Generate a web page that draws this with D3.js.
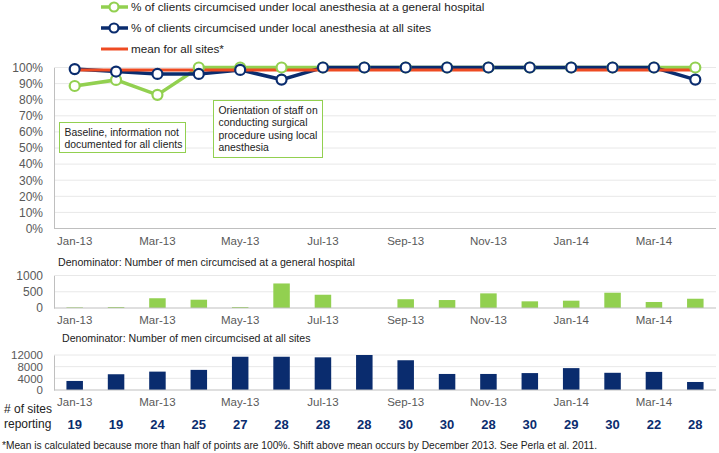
<!DOCTYPE html>
<html><head><meta charset="utf-8">
<script src="https://cdn.jsdelivr.net/npm/d3@7"></script>
<style>body{margin:0;background:#fff}svg{display:block;font-family:"Liberation Sans",Arial,sans-serif}</style>
</head><body><svg id="c" width="719" height="453"></svg>
<script>
const months = ["Jan-13","Feb-13","Mar-13","Apr-13","May-13","Jun-13","Jul-13","Aug-13","Sep-13","Oct-13","Nov-13","Dec-13","Jan-14","Feb-14","Mar-14","Apr-14"];
const tickMonths = ["Jan-13","Mar-13","May-13","Jul-13","Sep-13","Nov-13","Jan-14","Mar-14"];
const pctHospital = [0.885,0.923,0.83,1,1,1,1,1,1,1,1,1,1,1,1,1];
const pctAllSites = [0.99,0.975,0.96,0.96,0.985,0.925,1,1,1,1,1,1,1,1,1,0.925];
const meanAllSites = [0.985,0.985,0.985,0.985,0.985,0.985,0.985,0.985,0.985,0.985,0.985,null,0.985,0.985,0.985,0.985];
const denomHospital = [20,30,300,255,30,755,408,0,270,245,450,205,225,470,185,285];
const denomAllSites = [3100,5400,6300,6900,11400,11400,11200,12000,10200,5500,5500,5800,7500,5900,6200,2750];
const sitesReporting = [19,19,24,25,27,28,28,28,30,30,28,30,29,30,22,28];
const pctTicks = [0,0.1,0.2,0.3,0.4,0.5,0.6,0.7,0.8,0.9,1];
const hospTicks = [0,500,1000];
const allTicks = [0,4000,8000,12000];
const legendLabels = ["% of clients circumcised under local anesthesia at a general hospital","% of clients circumcised under local anesthesia at all sites","mean for all sites*"];
const note1 = ["Baseline, information not","documented for all clients"];
const note2 = ["Orientation of staff on","conducting surgical","procedure using local","anesthesia"];

const GREEN="#92D050", NAVY="#0A2C6E", RED="#EE4B22", GRID="#E8E8E8", AXIS="#BFBFBF", TXT="#595959";
const svg = d3.select("#c");
const x = d3.scaleBand().domain(months).range([54,716]);
const cx = m => x(m) + x.bandwidth()/2;

// ---------- top chart ----------
const y1 = d3.scaleLinear().domain([0,1]).range([228.5,67.5]);
svg.append("g").selectAll("line").data(pctTicks.filter(d=>d>0)).join("line")
  .attr("x1",54).attr("x2",716).attr("y1",d=>y1(d)).attr("y2",d=>y1(d)).attr("stroke",GRID);
const yAx1 = svg.append("g").attr("transform","translate(54,0)")
  .call(d3.axisLeft(y1).tickValues(pctTicks).tickFormat(d3.format(".0%")).tickSize(0).tickPadding(11));
yAx1.select(".domain").attr("stroke",AXIS);
yAx1.selectAll("text").attr("fill",TXT).style("font-size","12px");
const xAx1 = svg.append("g").attr("transform","translate(0,228.5)")
  .call(d3.axisBottom(x).tickValues(tickMonths).tickSize(0).tickPadding(8));
xAx1.select(".domain").attr("stroke",AXIS).attr("d","M54,0H716");
xAx1.selectAll("text").attr("fill",TXT).style("font-size","11.5px");

const line = d3.line().defined(d=>d.v!=null).x(d=>cx(d.m)).y(d=>y1(d.v));
const zip = arr => arr.map((v,i)=>({m:months[i],v}));
svg.append("path").datum(zip(pctHospital)).attr("d",line).attr("fill","none").attr("stroke",GREEN).attr("stroke-width",3.5);
svg.append("path").datum(zip(pctAllSites)).attr("d",line).attr("fill","none").attr("stroke",NAVY).attr("stroke-width",3.5);
svg.append("path").datum(zip(meanAllSites)).attr("d",line).attr("fill","none").attr("stroke",RED).attr("stroke-width",3);
svg.append("g").selectAll("circle").data(zip(pctHospital)).join("circle")
  .attr("cx",d=>cx(d.m)).attr("cy",d=>y1(d.v)).attr("r",5).attr("fill","#fff").attr("stroke",GREEN).attr("stroke-width",2.2);
svg.append("g").selectAll("circle").data(zip(pctAllSites)).join("circle")
  .attr("cx",d=>cx(d.m)).attr("cy",d=>y1(d.v)).attr("r",5).attr("fill","#fff").attr("stroke",NAVY).attr("stroke-width",2.2);

// annotation boxes
function note(lines,bx,by,bw,bh){
  const g = svg.append("g");
  g.append("rect").attr("x",bx).attr("y",by).attr("width",bw).attr("height",bh).attr("fill","#fff").attr("stroke",GREEN).attr("stroke-width",1);
  g.selectAll("text").data(lines).join("text").attr("x",bx+5).attr("y",(d,i)=>by+13+i*12.5)
    .attr("fill","#222").style("font-size","10.4px").text(d=>d);
}
note(note1,59.5,122.5,126,30);
note(note2,213.5,100.5,109,57);

// legend
const leg = svg.append("g");
const legY = [7,28,49], legC=[GREEN,NAVY,RED];
legendLabels.forEach((t,i)=>{
  leg.append("line").attr("x1",101).attr("x2",128).attr("y1",legY[i]).attr("y2",legY[i]).attr("stroke",legC[i]).attr("stroke-width",i==2?3:3.5);
  if(i<2) leg.append("circle").attr("cx",114).attr("cy",legY[i]).attr("r",4.5).attr("fill","#fff").attr("stroke",legC[i]).attr("stroke-width",2.2);
  leg.append("text").attr("x",131).attr("y",legY[i]).attr("dy","0.35em").attr("fill","#222").style("font-size","11.7px").text(t);
});

// ---------- middle chart ----------
const y2 = d3.scaleLinear().domain([0,1000]).range([308,275.5]);
svg.append("text").attr("x",58).attr("y",262).attr("dy","0.35em").attr("fill","#222").style("font-size","10.6px")
  .text("Denominator: Number of men circumcised at a general hospital");
svg.append("g").selectAll("line").data(hospTicks.filter(d=>d>0)).join("line")
  .attr("x1",54).attr("x2",716).attr("y1",d=>y2(d)).attr("y2",d=>y2(d)).attr("stroke",GRID);
const bw = 16.5;
svg.append("g").selectAll("rect").data(zip(denomHospital)).join("rect")
  .attr("x",d=>cx(d.m)-bw/2).attr("width",bw).attr("y",d=>y2(d.v)).attr("height",d=>y2(0)-y2(d.v)).attr("fill",GREEN);
const yAx2 = svg.append("g").attr("transform","translate(54,0)")
  .call(d3.axisLeft(y2).tickValues(hospTicks).tickFormat(d3.format("d")).tickSize(0).tickPadding(11));
yAx2.select(".domain").attr("stroke",AXIS);
yAx2.selectAll("text").attr("fill",TXT).style("font-size","12px");
const xAx2 = svg.append("g").attr("transform","translate(0,308)")
  .call(d3.axisBottom(x).tickValues(tickMonths).tickSize(0).tickPadding(8));
xAx2.select(".domain").attr("stroke",AXIS).attr("d","M54,0H716");
xAx2.selectAll("text").attr("fill",TXT).style("font-size","11.5px");

// ---------- bottom chart ----------
const y3 = d3.scaleLinear().domain([0,12000]).range([390,355]);
svg.append("text").attr("x",62).attr("y",338).attr("dy","0.35em").attr("fill","#222").style("font-size","10.6px")
  .text("Denominator: Number of men circumcised at all sites");
svg.append("g").selectAll("line").data(allTicks.filter(d=>d>0)).join("line")
  .attr("x1",54).attr("x2",716).attr("y1",d=>y3(d)).attr("y2",d=>y3(d)).attr("stroke",GRID);
svg.append("g").selectAll("rect").data(zip(denomAllSites)).join("rect")
  .attr("x",d=>cx(d.m)-bw/2).attr("width",bw).attr("y",d=>y3(d.v)).attr("height",d=>y3(0)-y3(d.v)).attr("fill",NAVY);
const yAx3 = svg.append("g").attr("transform","translate(54,0)")
  .call(d3.axisLeft(y3).tickValues(allTicks).tickFormat(d3.format("d")).tickSize(0).tickPadding(11));
yAx3.select(".domain").attr("stroke",AXIS);
yAx3.selectAll("text").attr("fill",TXT).style("font-size","11.5px");
const xAx3 = svg.append("g").attr("transform","translate(0,390)")
  .call(d3.axisBottom(x).tickValues(tickMonths).tickSize(0).tickPadding(8));
xAx3.select(".domain").attr("stroke",AXIS).attr("d","M54,0H716");
xAx3.selectAll("text").attr("fill",TXT).style("font-size","11.5px");

// sites reporting
svg.append("text").attr("x",4).attr("y",409).attr("dy","0.35em").attr("fill","#222").style("font-size","12px").text("# of sites");
svg.append("text").attr("x",4).attr("y",424).attr("dy","0.35em").attr("fill","#222").style("font-size","12px").text("reporting");
svg.append("g").selectAll("text").data(zip(sitesReporting)).join("text")
  .attr("x",d=>cx(d.m)).attr("y",424).attr("dy","0.35em").attr("text-anchor","middle")
  .attr("fill",NAVY).style("font-size","13px").style("font-weight","bold").text(d=>d.v);

// footnote
svg.append("text").attr("x",2).attr("y",445).attr("dy","0.35em").attr("fill","#222").style("font-size","10.2px")
  .text("*Mean is calculated because more than half of points are 100%. Shift above mean occurs by December 2013. See Perla et al. 2011.");
</script></body></html>
